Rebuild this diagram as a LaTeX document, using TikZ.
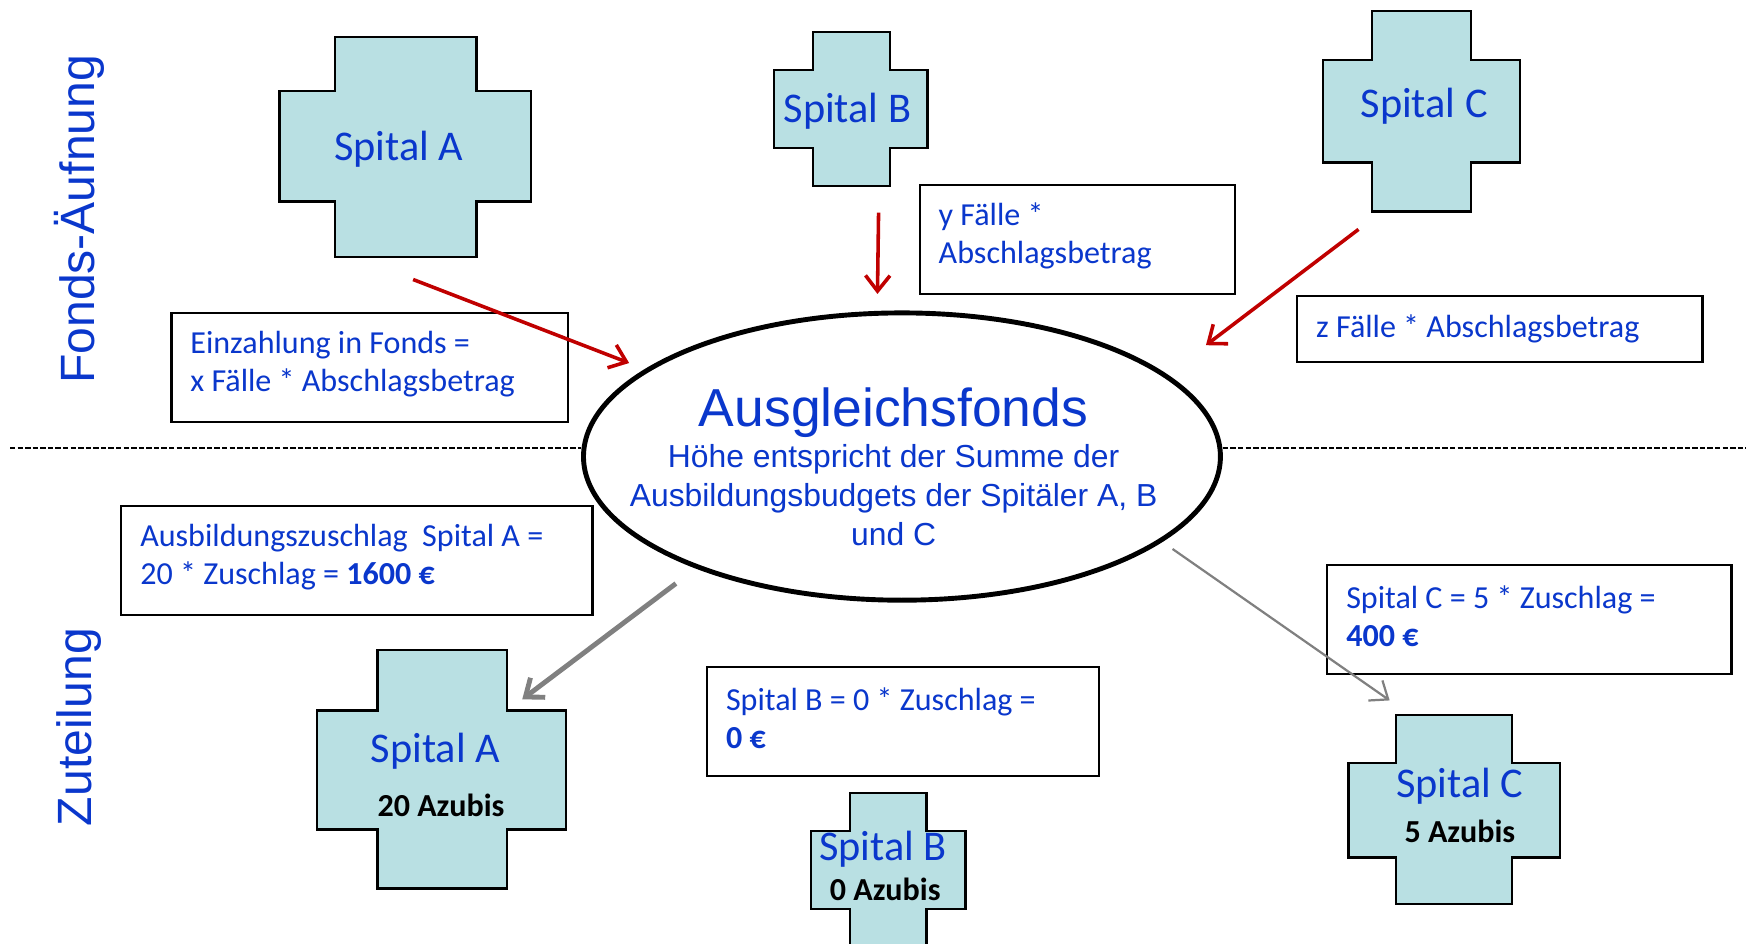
\documentclass[tikz,border=0pt]{standalone}
\usepackage{fontspec}
\setmainfont{Carlito}
\newfontfamily\arialfont{Liberation Sans}
\usetikzlibrary{shapes.geometric,arrows.meta}
\definecolor{spitalblau}{HTML}{0A37CC}
\definecolor{kreuzfill}{HTML}{B9E0E3}
\definecolor{pfeilrot}{HTML}{C00000}
\definecolor{pfeilgrau}{HTML}{808080}
% outer left, inner left, inner right, outer right, then the same from top to bottom
\newcommand{\spitalkreuz}[8]{
  \draw[kreuz] (#2,#5) -- (#3,#5) -- (#3,#6) -- (#4,#6) -- (#4,#7) -- (#3,#7) -- (#3,#8)
    -- (#2,#8) -- (#2,#7) -- (#1,#7) -- (#1,#6) -- (#2,#6) -- cycle;
}
\begin{document}
\begin{tikzpicture}[x=0.5pt,y=-0.5pt,
    kreuz/.style={draw=black, fill=kreuzfill, line width=1pt},
    kreuztext/.style={text=spitalblau, font=\fontsize{19}{22}\selectfont, inner sep=0pt},
    azubis/.style={text=black, font=\fontsize{14.4}{17}\selectfont\bfseries, inner sep=0pt},
    geldbox/.style={draw=black, fill=white, line width=1pt, text=spitalblau, align=flush left, inner xsep=8.5pt, inner ysep=0pt,
      font=\fontsize{14.4}{17}\selectfont},
    zweizeilig/.style={execute at begin node={\baselineskip=17pt}, execute at end node={\vspace*{3pt}}},
    seite/.style={text=spitalblau, font=\arialfont\fontsize{21.6}{25}\selectfont, rotate=90, inner sep=0pt},
    trenner/.style={dash pattern=on 2.4pt off 1pt, line width=1pt},
    rotpfeil/.style={->, draw=pfeilrot, line width=1.6pt},
    graupfeil/.style={->, draw=pfeilgrau},
    >={Straight Barb[length=7pt,width=11pt]}]
  \useasboundingbox (0,0) rectangle (1568,847);
  \clip (0,0) rectangle (1568,847);

  % Trennlinie
  \coordinate (linksrand) at (9,402);
  \coordinate (rechtsrand) at (1568,402);

  \node[ellipse, draw=black, fill=white, line width=2.2pt, minimum width=286pt, minimum height=129pt, inner sep=0pt] (fonds) at (810,410) {};
  \draw[trenner] (linksrand) -- (fonds.west |- linksrand);
  \draw[trenner] (fonds.east |- rechtsrand) -- (rechtsrand);
  \node[text=spitalblau, align=center, inner sep=0pt, font=\arialfont\fontsize{14.3}{17.5}\selectfont] (fondstext) at (802.5,419)
    {{\fontsize{24}{24}\selectfont Ausgleichsfonds}\\[1pt]H\"ohe entspricht der Summe der\\Ausbildungsbudgets der Spit\"aler A, B\\und C};

  \node[seite] (aufnahme) at (71,197) {Fonds-\"Aufnung};
  \node[seite] (zuteilung) at (71,653) {Zuteilung};

  % Fonds-Aufnahme
  \spitalkreuz{251}{301}{428}{477}{33}{82}{181}{231}
  \node[kreuztext] (spitalA) at (358,134) {Spital A};
  \spitalkreuz{695}{730}{799}{833}{29}{63}{133}{167}
  \node[kreuztext] (spitalB) at (761,100) {Spital B};
  \spitalkreuz{1188}{1232}{1321}{1365}{10}{54}{146}{190}
  \node[kreuztext] (spitalC) at (1279,95) {Spital C};

  \node[geldbox, zweizeilig, text width=161pt, minimum height=49pt] (boxX) at (332,330) {Einzahlung in Fonds =\\x F\"alle * Abschlagsbetrag};
  \node[geldbox, zweizeilig, text width=124.5pt, minimum height=49pt] (boxY) at (967.5,215) {y F\"alle *\\Abschlagsbetrag};
  \node[geldbox, text width=165pt, minimum height=29.5pt] (boxZ) at (1347,295.5) {z F\"alle * Abschlagsbetrag};

  % Zuteilung
  \spitalkreuz{285}{339}{455}{508}{584}{638}{745}{798}
  \node[kreuztext] (spitalAzu) at (391,675) {Spital A};
  \node[azubis] (azubisA) at (396,723) {20 Azubis};
  \spitalkreuz{728}{763}{832}{867}{712}{746}{816}{880}
  \node[kreuztext] (spitalBzu) at (793,763) {Spital B};
  \node[azubis] (azubisB) at (795,799) {0 Azubis};
  \spitalkreuz{1211}{1254}{1358}{1401}{642}{685}{770}{812}
  \node[kreuztext] (spitalCzu) at (1311,706) {Spital C};
  \node[azubis] (azubisC) at (1311,747) {5 Azubis};

  \node[geldbox, zweizeilig, text width=194.5pt, minimum height=49pt] (boxA) at (320.5,503.5) {Ausbildungszuschlag\ \ Spital A =\\20 * Zuschlag = \textbf{1600 €}};
  \node[geldbox, zweizeilig, text width=159pt, minimum height=49pt] (boxB) at (811,648) {Spital B = 0 * Zuschlag =\\\textbf{0 €}};
  \node[geldbox, zweizeilig, text width=164.5pt, minimum height=49pt] (boxC) at (1373.5,556.5) {Spital C = 5 * Zuschlag =\\\textbf{400 €}};

  % Pfeile
  \coordinate (ausA) at (371,251);
  \coordinate (einA) at (565,326);
  \coordinate (ausB) at (789,191);
  \coordinate (einB) at (788,264);
  \coordinate (ausC) at (1220,206);
  \coordinate (einC) at (1083,310);
  \coordinate (zuA) at (607,524);
  \coordinate (endA) at (469,628);
  \coordinate (zuC) at (1053,493);
  \coordinate (endC) at (1248,629);
  \draw[rotpfeil] (ausA) -- (einA);
  \draw[rotpfeil] (ausB) -- (einB);
  \draw[rotpfeil] (ausC) -- (einC);
  \draw[graupfeil, line width=2.2pt] (zuA) -- (endA);
  \draw[graupfeil, line width=1pt] (zuC) -- (endC);
\end{tikzpicture}
\end{document}
